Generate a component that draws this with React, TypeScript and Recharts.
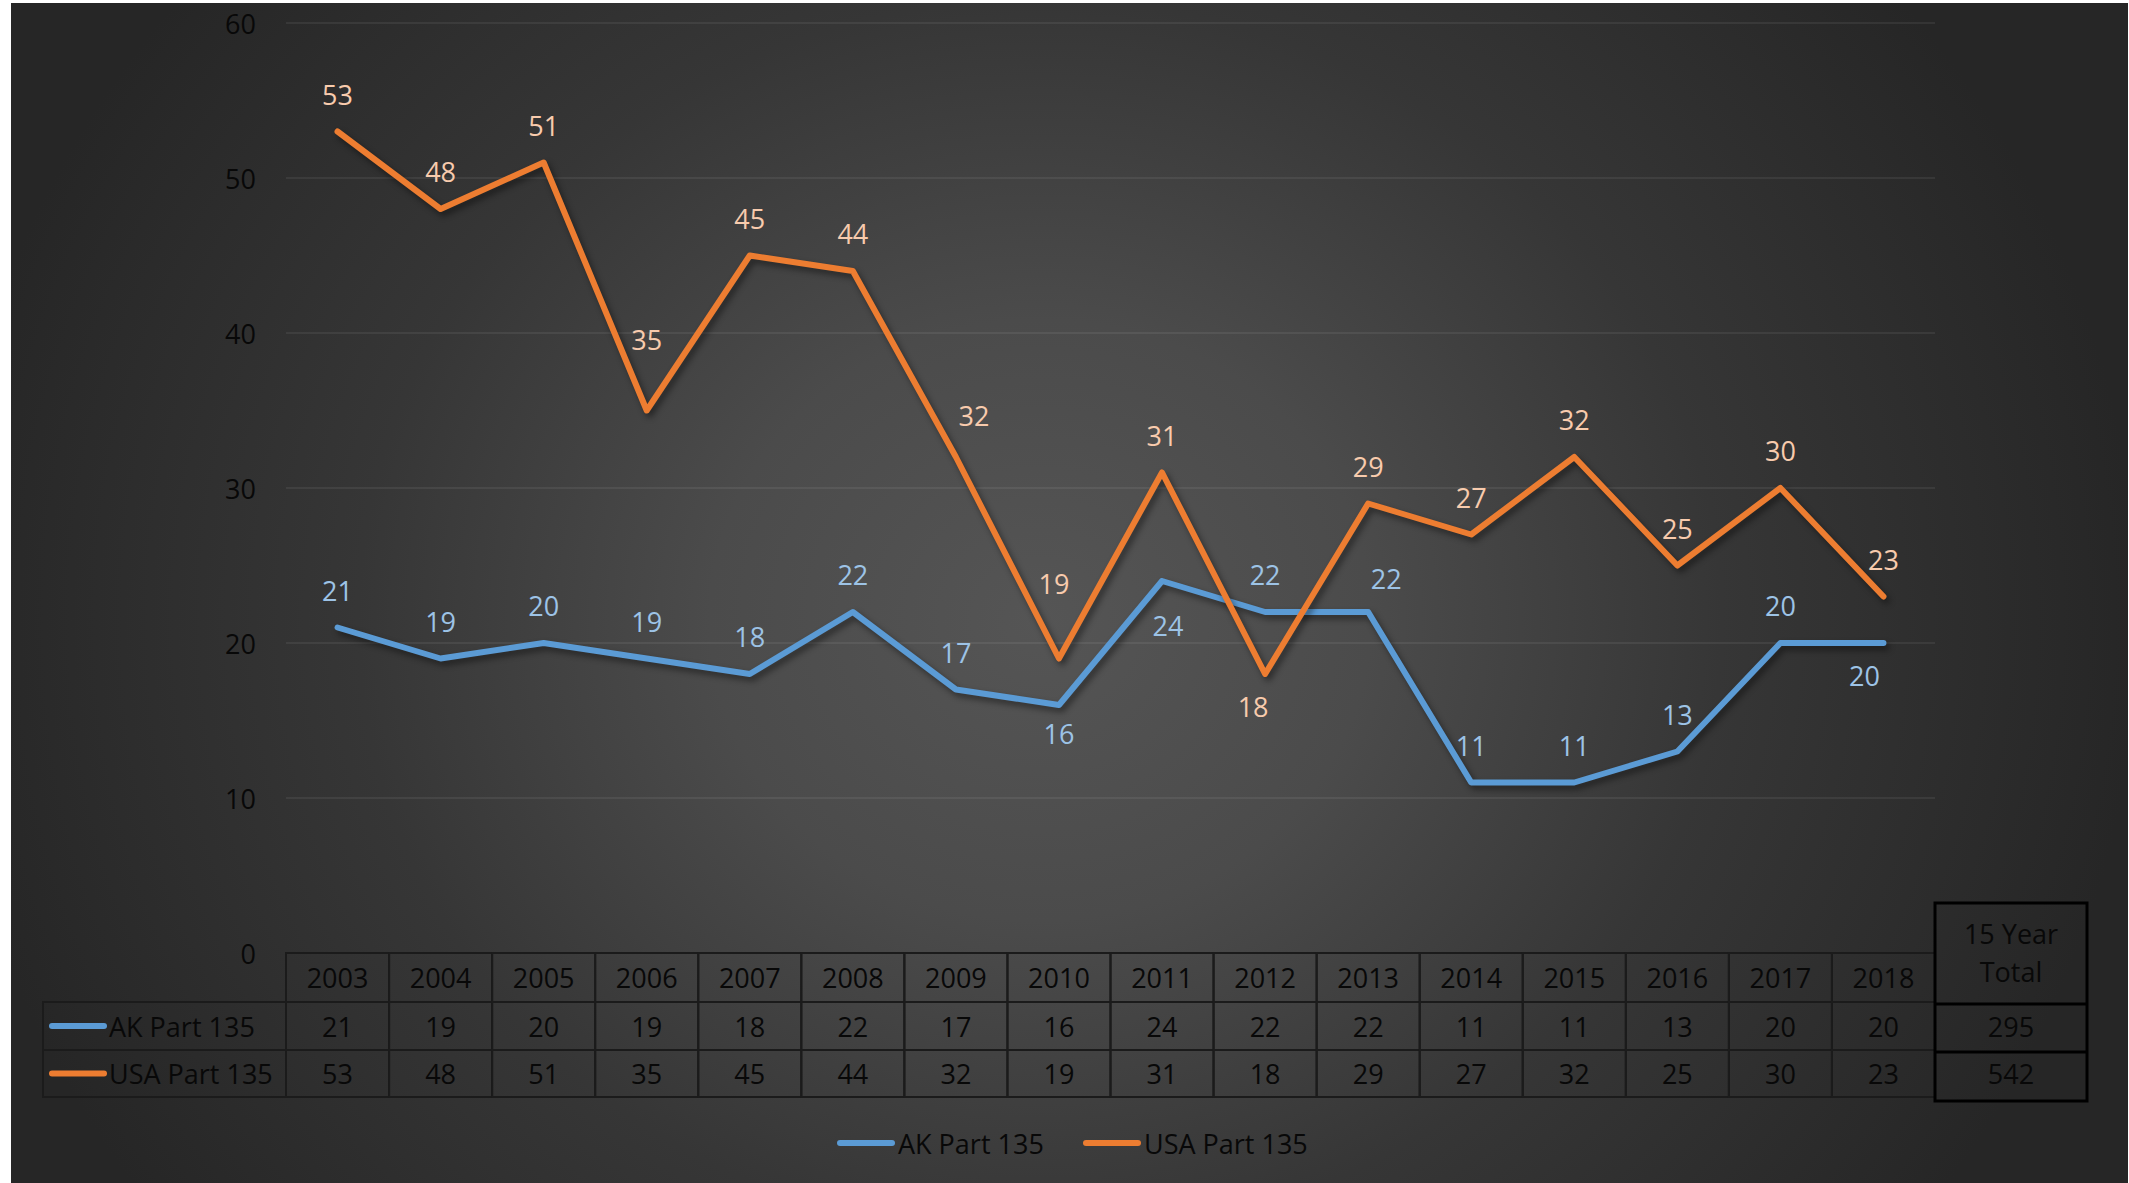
import { LineChart, Line, XAxis, YAxis, CartesianGrid, LabelList } from "recharts";

const years = ["2003", "2004", "2005", "2006", "2007", "2008", "2009", "2010", "2011", "2012", "2013", "2014", "2015", "2016", "2017", "2018"];
const akPart135 = [21, 19, 20, 19, 18, 22, 17, 16, 24, 22, 22, 11, 11, 13, 20, 20];
const usaPart135 = [53, 48, 51, 35, 45, 44, 32, 19, 31, 18, 29, 27, 32, 25, 30, 23];
const seriesNames = ["AK Part 135", "USA Part 135"];
const yTicks = [0, 10, 20, 30, 40, 50, 60];
const totalHeading = ["15 Year", "Total"];

const data = years.map((year, i) => ({ year, ak: akPart135[i], usa: usaPart135[i] }));
const totals = [akPart135, usaPart135].map((s) => s.reduce((a, b) => a + b, 0));

const W = 2129;
const H = 1183;
const PLOT_LEFT = 286;
const PLOT_RIGHT = 1935;
const PLOT_TOP = 23;
const PLOT_BOTTOM = 953;
const COL_W = (PLOT_RIGHT - PLOT_LEFT) / years.length;
const ROWS = [953, 1002, 1050, 1097];
const BLUE = "#5B9BD5";
const ORANGE = "#ED7D31";
const BLUE_LABEL = "#9DC3E6";
const ORANGE_LABEL = "#F8CBAD";
const INK = "#080808";
const CELL = "#1b1b1b";
const FONT = "'Open Sans', sans-serif";
const FS = 27;

// where excel pushed a label away from its usual spot above the point
const akNudge: Record<number, [number, number]> = { 7: [0, 28], 8: [6, 44], 10: [18, -34], 15: [-19, 32] };
const usaNudge: Record<number, [number, number]> = { 3: [0, -71], 6: [18, -42], 7: [-5, -75], 9: [-12, 32] };

function pointLabel(color: string, nudge: Record<number, [number, number]>) {
  return (props: any) => {
    const { x, y, value, index } = props;
    const [dx, dy] = nudge[index] ?? [0, -37.5];
    return (
      <text x={x + dx} y={y + dy} fill={color} fontSize={FS} fontFamily={FONT} textAnchor="middle" dominantBaseline="central">
        {value}
      </text>
    );
  };
}

function TableColumn(props: any) {
  const { x, payload } = props;
  const i = years.indexOf(String(payload.value));
  if (i < 0) return null;
  const cells = [years[i], akPart135[i], usaPart135[i]];
  return (
    <g>
      {cells.map((c, r) => (
        <g key={r}>
          <rect x={x - COL_W / 2} y={ROWS[r]} width={COL_W} height={ROWS[r + 1] - ROWS[r]} fill="none" stroke={CELL} strokeWidth={2} />
          <text x={x} y={(ROWS[r] + ROWS[r + 1]) / 2} fill={INK} fontSize={FS} fontFamily={FONT} textAnchor="middle" dominantBaseline="central">
            {c}
          </text>
        </g>
      ))}
    </g>
  );
}

function YTick(props: any) {
  const { x, y, payload } = props;
  return (
    <text x={x} y={y} fill={INK} fontSize={FS} fontFamily={FONT} textAnchor="end" dominantBaseline="central">
      {payload.value}
    </text>
  );
}

export default function App() {
  const colors = [BLUE, ORANGE];
  return (
    <div style={{ position: "absolute", left: 0, top: 0, width: W, height: H, background: "#fff", overflow: "hidden" }}>
      <style>{`.recharts-line-curve { filter: drop-shadow(3px 4px 3px rgba(0,0,0,0.45)); }`}</style>
      <div
        style={{
          position: "absolute",
          left: 11,
          top: 3,
          width: 2117,
          height: 1180,
          background: "radial-gradient(ellipse 1100px 1000px at 1029px 617px, #555555 0%, #4b4b4b 30%, #363636 62%, #262626 100%)",
        }}
      />
      <div style={{ position: "absolute", left: 0, top: 0 }}>
        <LineChart width={W} height={H} data={data} margin={{ top: PLOT_TOP, right: W - PLOT_RIGHT, bottom: 0, left: 0 }}>
          <CartesianGrid vertical={false} stroke="rgba(255,255,255,0.09)" strokeWidth={1.5} />
          <XAxis
            dataKey="year"
            height={H - PLOT_BOTTOM}
            axisLine={false}
            tickLine={false}
            tickSize={0}
            tickMargin={0}
            interval={0}
            padding={{ left: COL_W / 2, right: COL_W / 2 }}
            tick={<TableColumn />}
          />
          <YAxis
            width={PLOT_LEFT}
            domain={[0, 60]}
            ticks={yTicks}
            axisLine={false}
            tickLine={false}
            tickSize={0}
            tickMargin={30}
            tick={<YTick />}
          />
          <Line type="linear" dataKey="ak" stroke={BLUE} strokeWidth={6} strokeLinecap="round" strokeLinejoin="round" dot={false} activeDot={false} isAnimationActive={false}>
            <LabelList dataKey="ak" content={pointLabel(BLUE_LABEL, akNudge)} />
          </Line>
          <Line type="linear" dataKey="usa" stroke={ORANGE} strokeWidth={6} strokeLinecap="round" strokeLinejoin="round" dot={false} activeDot={false} isAnimationActive={false}>
            <LabelList dataKey="usa" content={pointLabel(ORANGE_LABEL, usaNudge)} />
          </Line>
        </LineChart>
      </div>
      <svg width={W} height={H} style={{ position: "absolute", left: 0, top: 0, pointerEvents: "none" }} fontFamily={FONT}>
        {/* row headers of the data table */}
        {seriesNames.map((name, r) => {
          const top = ROWS[r + 1];
          const bottom = ROWS[r + 2];
          const cy = (top + bottom) / 2;
          return (
            <g key={name}>
              <rect x={43} y={top} width={PLOT_LEFT - 43} height={bottom - top} fill="none" stroke={CELL} strokeWidth={2} />
              <line x1={52} x2={104} y1={cy} y2={cy} stroke={colors[r]} strokeWidth={6} strokeLinecap="round" />
              <text x={109} y={cy} fill={INK} fontSize={FS} dominantBaseline="central">
                {name}
              </text>
            </g>
          );
        })}
        {/* 15 year total box */}
        <rect x={1935} y={903} width={152} height={198} fill="none" stroke="#000" strokeWidth={3} />
        <line x1={1935} x2={2087} y1={1004} y2={1004} stroke="#000" strokeWidth={3} />
        <line x1={1935} x2={2087} y1={1052} y2={1052} stroke="#000" strokeWidth={3} />
        {totalHeading.map((t, k) => (
          <text key={t} x={2011} y={933 + k * 38} fill={INK} fontSize={FS} textAnchor="middle" dominantBaseline="central">
            {t}
          </text>
        ))}
        {totals.map((t, k) => (
          <text key={k} x={2011} y={1026 + k * 47} fill={INK} fontSize={FS} textAnchor="middle" dominantBaseline="central">
            {t}
          </text>
        ))}
        {/* legend */}
        {seriesNames.map((name, k) => {
          const x0 = k === 0 ? 840 : 1086;
          return (
            <g key={name}>
              <line x1={x0} x2={x0 + 52} y1={1143} y2={1143} stroke={colors[k]} strokeWidth={6} strokeLinecap="round" />
              <text x={x0 + 58} y={1143} fill={INK} fontSize={FS} dominantBaseline="central">
                {name}
              </text>
            </g>
          );
        })}
      </svg>
    </div>
  );
}
